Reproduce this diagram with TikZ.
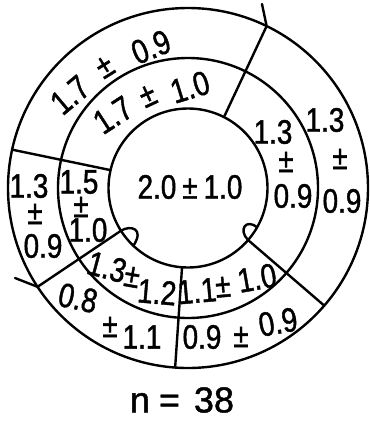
\documentclass[tikz,border=0pt]{standalone}
\usepackage{fontspec}
\setmainfont{Liberation Sans}[FakeStretch=0.82,FakeBold=1.2]
\newfontfamily\nfont{Liberation Sans}[FakeBold=1.2]
\usetikzlibrary{calc}
\begin{document}
\begin{tikzpicture}[x=1pt,y=-1pt,line width=2.2pt,
  lbl/.style={font=\fontsize{34}{36}\selectfont,inner sep=0pt},
  bigl/.style={font=\nfont\fontsize{36}{38}\selectfont,inner sep=0pt},
  ringline/.style={line width=2.4pt,line join=round,line cap=round}]
\useasboundingbox (0,0) rectangle (370,421);
\coordinate (c) at (188,188);
% rings
\draw[ringline] (c) circle[radius=79.5pt];
\draw[ringline] (c) circle[radius=130pt];
\draw[ringline] (c) circle[radius=180pt];
% radial lines
\coordinate (i1) at ($(c)+(-63.1:79.5)$);
\coordinate (o1) at ($(c)+(-64.1:180)$);
\coordinate (t1) at (262,4);
\coordinate (i2) at ($(c)+(-167:79.5)$);
\coordinate (o2) at ($(c)+(-167.7:180)$);
\coordinate (i3) at ($(c)+(147.5:79.5)$);
\coordinate (o3) at ($(c)+(146.7:180)$);
\coordinate (t3) at (15,278);
\coordinate (e3) at ($(c)+(133.4:79.5)$);
\coordinate (i4) at ($(c)+(40.9:79.5)$);
\coordinate (o4) at ($(c)+(40.8:180)$);
\coordinate (e4) at ($(c)+(29.7:79.5)$);
\coordinate (i5) at ($(c)+(94.3:79.5)$);
\coordinate (o5) at ($(c)+(94.1:180)$);
\draw[ringline] (i1) -- (o1) -- (t1);
\draw[ringline] (i2) -- (o2);
\draw[ringline] (t3) -- (o3) -- (i3) .. controls (130,225) and (145,228) .. (e3);
\draw[ringline] (o4) -- (i4) .. controls (238,230) and (246,218) .. (e4);
\draw[ringline] (i5) -- (o5);
% centre
\node[lbl] (m) at (190,187) {2.0\hspace{6pt}±\hspace{6pt}1.0};
% top sector
\node[lbl,rotate=40] (to1) at (70,95) {1.7};
\node[lbl,rotate=32] (to2) at (105,67) {±};
\node[lbl,rotate=22] (to3) at (151,47) {0.9};
\node[lbl,rotate=33] (tm1) at (113,115) {1.7};
\node[lbl,rotate=25] (tm2) at (148,96) {±};
\node[lbl,rotate=17] (tm3) at (190,87) {1.0};
% right sector
\node[lbl] (rm1) at (273,132) {1.3};
\node[lbl] (rm2) at (286,162) {±};
\node[lbl] (rm3) at (293,196) {0.9};
\node[lbl] (ro1) at (325,120) {1.3};
\node[lbl] (ro2) at (340,159) {±};
\node[lbl] (ro3) at (342,201) {0.9};
% left sector
\node[lbl] (lo1) at (29,186) {1.3};
\node[lbl] (lo2) at (35,214) {±};
\node[lbl] (lo3) at (43,246) {0.9};
\node[lbl] (lm1) at (79,182) {1.5};
\node[lbl] (lm2) at (81,207) {±};
\node[lbl] (lm3) at (88,230) {1.0};
% lower-left sector
\node[lbl,rotate=-15] (bm1) at (107,267) {1.3};
\node[lbl,rotate=-10] (bm2) at (132,277) {±};
\node[lbl,rotate=-5] (bm3) at (157,292) {1.2};
\node[lbl,rotate=-12] (bo1) at (78,298) {0.8};
\node[lbl] (bo2) at (110,327) {±};
\node[lbl] (bo3) at (142,337) {1.1};
% lower-right sector
\node[lbl,rotate=5] (qm1) at (197,291) {1.1};
\node[lbl,rotate=5] (qm2) at (223,287) {±};
\node[lbl,rotate=10] (qm3) at (257,278) {1.0};
\node[lbl] (qo1) at (202,337) {0.9};
\node[lbl] (qo2) at (241,337) {±};
\node[lbl,rotate=10] (qo3) at (278,322) {0.9};
% caption
\node[bigl] (n) at (182,400) {n\hspace{9pt}=\hspace{14pt}38};
\end{tikzpicture}
\end{document}
